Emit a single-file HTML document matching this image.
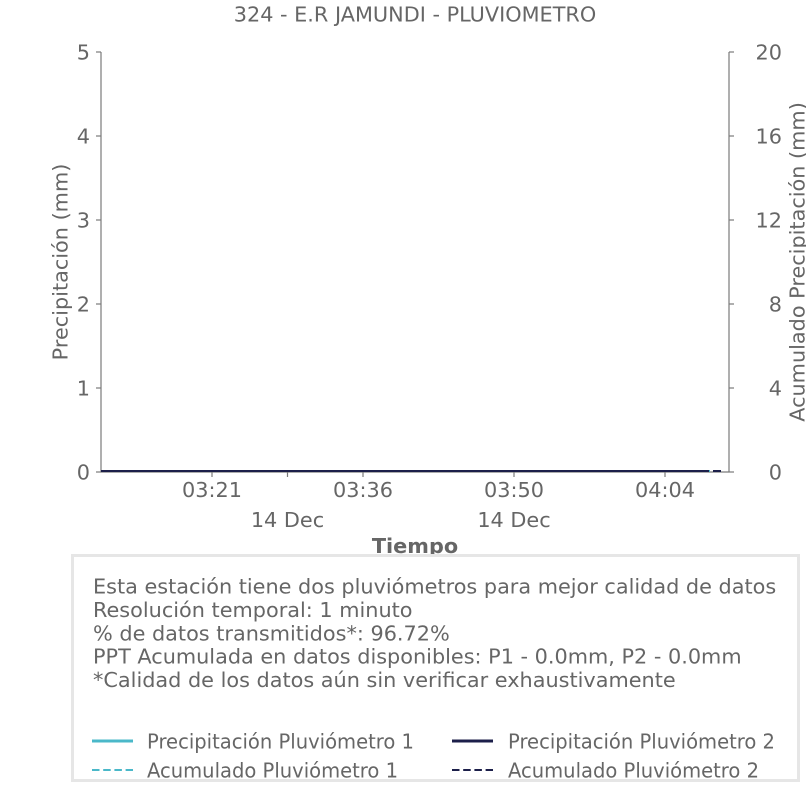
<!DOCTYPE html>
<html>
<head>
<meta charset="utf-8">
<style>
  html, body { margin: 0; padding: 0; background: #ffffff; }
  svg { display: block; }
  text { font-family: "DejaVu Sans", "Liberation Sans", sans-serif; fill: #666666; }
</style>
</head>
<body>
<svg width="806" height="806" viewBox="0 0 806 806" xmlns="http://www.w3.org/2000/svg">
  <rect x="0" y="0" width="806" height="806" fill="#ffffff"/>

  <!-- Title -->
  <text x="415" y="21.5" font-size="20.8" text-anchor="middle">324 - E.R JAMUNDI - PLUVIOMETRO</text>

  <!-- Spines -->
  <line x1="101" y1="52" x2="101" y2="472" stroke="#7a7a7a" stroke-width="1.2"/>
  <line x1="729" y1="52" x2="729" y2="472" stroke="#7a7a7a" stroke-width="1.2"/>
  <line x1="101" y1="472" x2="729" y2="472" stroke="#7a7a7a" stroke-width="1.2"/>

  <!-- Ticks -->
  <g stroke="#7a7a7a" stroke-width="1.2">
    <line x1="96" y1="52" x2="101" y2="52"/>
    <line x1="96" y1="136" x2="101" y2="136"/>
    <line x1="96" y1="220" x2="101" y2="220"/>
    <line x1="96" y1="304" x2="101" y2="304"/>
    <line x1="96" y1="388" x2="101" y2="388"/>
    <line x1="96" y1="472" x2="101" y2="472"/>
    <line x1="729" y1="52" x2="734" y2="52"/>
    <line x1="729" y1="136" x2="734" y2="136"/>
    <line x1="729" y1="220" x2="734" y2="220"/>
    <line x1="729" y1="304" x2="734" y2="304"/>
    <line x1="729" y1="388" x2="734" y2="388"/>
    <line x1="729" y1="472" x2="734" y2="472"/>
    <line x1="212" y1="472" x2="212" y2="477"/>
    <line x1="287.5" y1="472" x2="287.5" y2="477"/>
    <line x1="363" y1="472" x2="363" y2="477"/>
    <line x1="514" y1="472" x2="514" y2="477"/>
    <line x1="665" y1="472" x2="665" y2="477"/>
  </g>

  <!-- Left tick labels -->
  <g font-size="20.8" text-anchor="end">
    <text x="90" y="59.6">5</text>
    <text x="90" y="143.6">4</text>
    <text x="90" y="227.6">3</text>
    <text x="90" y="311.6">2</text>
    <text x="90" y="395.6">1</text>
    <text x="90" y="479.6">0</text>
  </g>

  <!-- Right tick labels -->
  <g font-size="20.8" text-anchor="end">
    <text x="782" y="59.6">20</text>
    <text x="782" y="143.6">16</text>
    <text x="782" y="227.6">12</text>
    <text x="782" y="311.6">8</text>
    <text x="782" y="395.6">4</text>
    <text x="782" y="479.6">0</text>
  </g>

  <!-- X tick labels -->
  <g font-size="20.8" text-anchor="middle">
    <text x="212" y="497">03:21</text>
    <text x="363" y="497">03:36</text>
    <text x="514" y="497">03:50</text>
    <text x="665" y="497">04:04</text>
    <text x="287.5" y="527">14 Dec</text>
    <text x="514" y="527">14 Dec</text>
  </g>

  <!-- Axis labels -->
  <text x="0" y="0" font-size="20.8" text-anchor="middle" transform="translate(67.3,262) rotate(-90)">Precipitación (mm)</text>
  <text x="0" y="0" font-size="20.8" text-anchor="middle" transform="translate(804.5,262) rotate(-90)">Acumulado Precipitación (mm)</text>
  <text x="415" y="553" font-size="20.8" font-weight="bold" text-anchor="middle">Tiempo</text>

  <!-- Data series (all zero) -->
  <line x1="101" y1="471" x2="710" y2="471" stroke="#4ab8c9" stroke-width="2"/>
  <line x1="101" y1="471" x2="709" y2="471" stroke="#1c1f4a" stroke-width="2"/>
  <line x1="713" y1="471" x2="721" y2="471" stroke="#1c1f4a" stroke-width="2"/>

  <!-- Info box -->
  <rect x="72.5" y="555.5" width="726" height="225" fill="#ffffff" stroke="#e6e6e6" stroke-width="3"/>

  <g font-size="20.8">
    <text x="93" y="593.5">Esta estación tiene dos pluviómetros para mejor calidad de datos</text>
    <text x="93" y="617">Resolución temporal: 1 minuto</text>
    <text x="93" y="640.3">% de datos transmitidos*: 96.72%</text>
    <text x="93" y="663.7">PPT Acumulada en datos disponibles: P1 - 0.0mm, P2 - 0.0mm</text>
    <text x="93" y="687">*Calidad de los datos aún sin verificar exhaustivamente</text>
  </g>

  <!-- Legend -->
  <line x1="92" y1="741" x2="133" y2="741" stroke="#4ab8c9" stroke-width="3"/>
  <line x1="452" y1="741" x2="493" y2="741" stroke="#1c1f4a" stroke-width="3"/>
  <line x1="92" y1="770" x2="133" y2="770" stroke="#4ab8c9" stroke-width="2" stroke-dasharray="7.5,3.7"/>
  <line x1="452" y1="770" x2="493" y2="770" stroke="#1c1f4a" stroke-width="2" stroke-dasharray="7.5,3.7"/>
  <g font-size="20.8">
    <text x="147" y="748.5" textLength="267" lengthAdjust="spacingAndGlyphs">Precipitación Pluviómetro 1</text>
    <text x="508" y="748.5" textLength="267" lengthAdjust="spacingAndGlyphs">Precipitación Pluviómetro 2</text>
    <text x="147" y="777.5" textLength="251" lengthAdjust="spacingAndGlyphs">Acumulado Pluviómetro 1</text>
    <text x="508" y="777.5" textLength="251" lengthAdjust="spacingAndGlyphs">Acumulado Pluviómetro 2</text>
  </g>
</svg>
</body>
</html>
